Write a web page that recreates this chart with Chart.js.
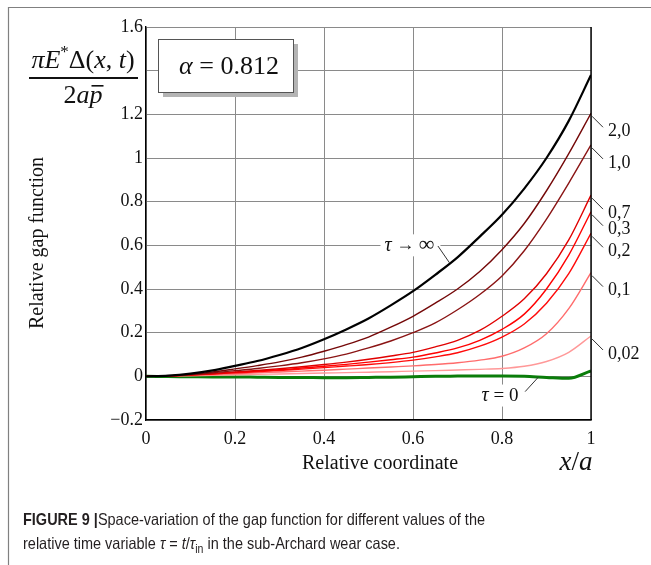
<!DOCTYPE html>
<html>
<head>
<meta charset="utf-8">
<script src="https://cdn.jsdelivr.net/npm/chart.js@4"></script>
<style>
html,body{margin:0;padding:0;background:#fff;}
#c{display:block;}
</style>
</head>
<body>
<canvas id="c" width="651" height="565"></canvas>
<script>
// ---- data ----
const X_VALUES = [0, 0.05, 0.1, 0.15, 0.2, 0.25, 0.3, 0.35, 0.4, 0.45, 0.5, 0.55, 0.6, 0.65, 0.7, 0.75, 0.8, 0.85, 0.9, 0.95, 1];
const TAU_INF  = [0, 0.003, 0.012, 0.027, 0.048, 0.07, 0.098, 0.13, 0.17, 0.215, 0.265, 0.325, 0.39, 0.465, 0.545, 0.64, 0.74, 0.86, 1.0, 1.17, 1.38];
const TAU_2_0  = [0, 0.002, 0.009, 0.02, 0.034, 0.049, 0.066, 0.088, 0.115, 0.145, 0.18, 0.225, 0.275, 0.335, 0.40, 0.48, 0.58, 0.70, 0.85, 1.02, 1.205];
const TAU_1_0  = [0, 0.002, 0.008, 0.016, 0.026, 0.036, 0.048, 0.062, 0.08, 0.102, 0.13, 0.162, 0.20, 0.245, 0.305, 0.375, 0.46, 0.575, 0.72, 0.885, 1.06];
const TAU_0_7  = [0, 0.002, 0.007, 0.013, 0.02, 0.027, 0.035, 0.044, 0.054, 0.065, 0.078, 0.093, 0.11, 0.135, 0.165, 0.21, 0.275, 0.355, 0.47, 0.625, 0.83];
const TAU_0_3  = [0, 0.002, 0.006, 0.012, 0.018, 0.024, 0.03, 0.038, 0.046, 0.055, 0.065, 0.076, 0.088, 0.107, 0.13, 0.165, 0.215, 0.285, 0.40, 0.555, 0.754];
const TAU_0_2  = [0, 0.002, 0.006, 0.011, 0.016, 0.021, 0.027, 0.033, 0.04, 0.047, 0.054, 0.063, 0.074, 0.089, 0.108, 0.138, 0.18, 0.24, 0.335, 0.47, 0.655];
const TAU_0_1  = [0, 0.002, 0.005, 0.008, 0.012, 0.016, 0.02, 0.024, 0.028, 0.033, 0.038, 0.043, 0.048, 0.054, 0.062, 0.074, 0.092, 0.13, 0.195, 0.31, 0.475];
const TAU_0_02 = [0, 0.001, 0.003, 0.005, 0.007, 0.009, 0.011, 0.013, 0.015, 0.017, 0.019, 0.021, 0.024, 0.026, 0.029, 0.032, 0.036, 0.046, 0.068, 0.11, 0.185];
const TAU_0    = [0, -0.001, -0.002, -0.003, -0.003, -0.004, -0.005, -0.005, -0.006, -0.006, -0.005, -0.004, -0.002, 0, 0.001, 0.002, 0.002, 0, -0.005, -0.009, 0.025];

const END_LABELS = ['2,0', '1,0', '0,7', '0,3', '0,2', '0,1', '0,02'];
const X_TICKS = [0, 0.2, 0.4, 0.6, 0.8, 1];
const Y_TICKS = [-0.2, 0, 0.2, 0.4, 0.6, 0.8, 1, 1.2, 1.4, 1.6];
const HIDDEN_Y_TICK = 1.4;
const ALPHA_TEXT = '0.812';
const X_TITLE = 'Relative coordinate';
const Y_TITLE = 'Relative gap function';

const SERIF = '"Liberation Serif", "Times New Roman", serif';
const SANS = '"Liberation Sans", Arial, sans-serif';

function series(vals) { return X_VALUES.map((x, i) => ({ x: x, y: vals[i] })); }

const datasets = [
  { key: 'inf', data: series(TAU_INF),  borderColor: '#000000', borderWidth: 2.2 },
  { key: '2,0', data: series(TAU_2_0),  borderColor: '#740808', borderWidth: 1.4 },
  { key: '1,0', data: series(TAU_1_0),  borderColor: '#8a1414', borderWidth: 1.4 },
  { key: '0,7', data: series(TAU_0_7),  borderColor: '#e00000', borderWidth: 1.4 },
  { key: '0,3', data: series(TAU_0_3),  borderColor: '#ff0000', borderWidth: 1.4 },
  { key: '0,2', data: series(TAU_0_2),  borderColor: '#ff0a0a', borderWidth: 1.4 },
  { key: '0,1', data: series(TAU_0_1),  borderColor: '#ff6c6c', borderWidth: 1.4 },
  { key: '0,02', data: series(TAU_0_02), borderColor: '#ff9898', borderWidth: 1.4 },
  { key: 'zero', data: series(TAU_0),   borderColor: '#0a7d0a', borderWidth: 3 }
].map(d => Object.assign(d, {
  label: d.key, fill: false, pointRadius: 0, pointHoverRadius: 0,
  cubicInterpolationMode: 'monotone'
}));

// draw a run of text pieces [text, font, dy]
function drawRun(ctx, pieces, x, y, align) {
  let total = 0;
  pieces.forEach(p => { ctx.font = p[1]; total += ctx.measureText(p[0]).width; });
  let cx = align === 'center' ? x - total / 2 : x;
  ctx.textAlign = 'left';
  pieces.forEach(p => {
    ctx.font = p[1];
    ctx.fillText(p[0], cx, y + (p[2] || 0));
    cx += ctx.measureText(p[0]).width;
  });
  return total;
}

const deco = {
  id: 'deco',
  beforeDraw(chart) {
    const ctx = chart.ctx;
    ctx.save();
    ctx.fillStyle = '#fff';
    ctx.fillRect(0, 0, chart.width, chart.height);
    ctx.strokeStyle = '#808080';
    ctx.lineWidth = 1.2;
    ctx.beginPath();
    ctx.moveTo(8.5, 565); ctx.lineTo(8.5, 7.5); ctx.lineTo(651, 7.5);
    ctx.stroke();
    ctx.restore();
  },
  afterDraw(chart) {
    const ctx = chart.ctx;
    const xs = chart.scales.x, ys = chart.scales.y;
    const area = chart.chartArea;
    ctx.save();
    // right boundary line at x = 1
    ctx.strokeStyle = '#000';
    ctx.lineWidth = 1.4;
    const xr = xs.getPixelForValue(1);
    ctx.beginPath(); ctx.moveTo(xr, area.top); ctx.lineTo(xr, area.bottom); ctx.stroke();

    // end labels with leaders
    ctx.fillStyle = '#111';
    ctx.strokeStyle = '#333';
    ctx.lineWidth = 1;
    ctx.textBaseline = 'middle';
    END_LABELS.forEach((lab, i) => {
      const ds = chart.data.datasets[i + 1];
      const last = ds.data[ds.data.length - 1];
      const px = xs.getPixelForValue(last.x), py = ys.getPixelForValue(last.y);
      ctx.beginPath(); ctx.moveTo(px + 1, py + 3); ctx.lineTo(px + 12, py + 14); ctx.stroke();
      ctx.font = '18px ' + SERIF;
      ctx.textAlign = 'left';
      ctx.fillText(lab, px + 17, py + 18);
    });

    // tau -> infinity label
    const infX = xs.getPixelForValue(0.592), infY = ys.getPixelForValue(0.6);
    ctx.fillStyle = '#fff';
    ctx.fillRect(infX - 29, infY - 11, 60, 22);
    ctx.fillStyle = '#111';
    drawRun(ctx, [['τ', 'italic 20px ' + SERIF], [' → ', '18px ' + SERIF], ['∞', '22px ' + SERIF]], infX, infY, 'center');
    ctx.beginPath();
    ctx.moveTo(xs.getPixelForValue(0.656), ys.getPixelForValue(0.597));
    ctx.lineTo(xs.getPixelForValue(0.682), ys.getPixelForValue(0.52));
    ctx.stroke();

    // tau = 0 label
    const zX = xs.getPixelForValue(0.7955), zY = ys.getPixelForValue(-0.088);
    ctx.fillStyle = '#fff';
    ctx.fillRect(zX - 25, zY - 11, 50, 22);
    ctx.fillStyle = '#111';
    drawRun(ctx, [['τ', 'italic 20px ' + SERIF], [' = 0', '19px ' + SERIF]], zX, zY, 'center');
    ctx.beginPath();
    ctx.moveTo(xs.getPixelForValue(0.852), ys.getPixelForValue(-0.07));
    ctx.lineTo(xs.getPixelForValue(0.882), ys.getPixelForValue(-0.003));
    ctx.stroke();

    // alpha box with shadow
    const bx = 158, by = 39, bw = 135, bh = 53;
    ctx.fillStyle = '#b4b4b4';
    ctx.fillRect(bx + 5, by + 5, bw, bh);
    ctx.fillStyle = '#fff';
    ctx.fillRect(bx, by, bw, bh);
    ctx.strokeStyle = '#555';
    ctx.lineWidth = 1;
    ctx.strokeRect(bx + 0.5, by + 0.5, bw, bh);
    ctx.fillStyle = '#111';
    drawRun(ctx, [['α', 'italic 26px ' + SERIF], [' = ' + ALPHA_TEXT, '26px ' + SERIF]], 229, 67, 'center');

    // left fraction label
    const num = [['π', 'italic 26px ' + SERIF], ['E', 'italic 26px ' + SERIF], ['*', '17px ' + SERIF, -8],
                 ['Δ(', '26px ' + SERIF], ['x', 'italic 26px ' + SERIF], [', ', '26px ' + SERIF],
                 ['t', 'italic 26px ' + SERIF], [')', '26px ' + SERIF]];
    drawRun(ctx, num, 83, 61, 'center');
    ctx.fillRect(29, 77, 109, 2);
    const den = [['2', '26px ' + SERIF], ['a', 'italic 26px ' + SERIF], ['p', 'italic 26px ' + SERIF]];
    let dw = 0;
    den.forEach(p => { ctx.font = p[1]; dw += ctx.measureText(p[0]).width; });
    drawRun(ctx, den, 83, 96, 'center');
    ctx.font = 'italic 26px ' + SERIF;
    const pw = ctx.measureText('p').width;
    ctx.fillRect(83 + dw / 2 - pw + 2, 85, pw - 1, 1.6);

    // axis titles
    ctx.fillStyle = '#111';
    ctx.font = '20px ' + SERIF;
    ctx.textAlign = 'center';
    ctx.fillText(X_TITLE, 380, 464);
    drawRun(ctx, [['x', 'italic 27px ' + SERIF], ['/', '27px ' + SERIF], ['a', 'italic 27px ' + SERIF]], 576, 463, 'center');
    ctx.save();
    ctx.translate(38, 243);
    ctx.rotate(-Math.PI / 2);
    ctx.font = '20px ' + SERIF;
    ctx.textAlign = 'center';
    ctx.fillText(Y_TITLE, 0, 0);
    ctx.restore();

    // caption
    ctx.fillStyle = '#231f20';
    ctx.textBaseline = 'alphabetic';
    const cap1 = [['FIGURE 9 |', 'bold 16.5px ' + SANS], ['Space-variation of the gap function for different values of the', '16.5px ' + SANS]];
    let w1 = 0;
    cap1.forEach(p => { ctx.font = p[1]; w1 += ctx.measureText(p[0]).width; });
    const sx = 462 / w1;
    ctx.save();
    ctx.translate(23, 0);
    ctx.scale(sx, 1);
    drawRun(ctx, cap1, 0, 525, 'left');
    drawRun(ctx, [['relative time variable ', '16.5px ' + SANS], ['τ', 'italic 16.5px ' + SANS], [' = ', '16.5px ' + SANS],
                  ['t', 'italic 16.5px ' + SANS], ['/', '16.5px ' + SANS], ['τ', 'italic 16.5px ' + SANS],
                  ['in', '12px ' + SANS, 4], [' in the sub-Archard wear case.', '16.5px ' + SANS]], 0, 549, 'left');
    ctx.restore();
    ctx.restore();
  }
};

new Chart(document.getElementById('c'), {
  type: 'line',
  data: { datasets: datasets },
  options: {
    responsive: false,
    animation: false,
    devicePixelRatio: 1,
    layout: { padding: { left: 0, right: 60, top: 27, bottom: 0 } },
    plugins: { legend: { display: false }, tooltip: { enabled: false } },
    scales: {
      x: {
        type: 'linear', min: 0, max: 1,
        afterFit(s) { s.height = 145; },
        afterBuildTicks(s) { s.ticks = X_TICKS.map(v => ({ value: v })); },
        grid: { color: '#8a8a8a', lineWidth: 1, drawTicks: false },
        border: { color: '#000', width: 1.4 },
        ticks: {
          padding: 8, color: '#111', maxRotation: 0,
          font: { family: SERIF, size: 18 },
          callback(v) { return (v === 0 || v === 1) ? String(v) : (Math.round(v * 10) / 10).toFixed(1); }
        }
      },
      y: {
        type: 'linear', min: -0.2, max: 1.6,
        afterFit(s) { s.width = 146; },
        afterBuildTicks(s) { s.ticks = Y_TICKS.map(v => ({ value: v })); },
        grid: { color: '#8a8a8a', lineWidth: 1, drawTicks: false },
        border: { color: '#000', width: 1.4 },
        ticks: {
          padding: 3, color: '#111',
          font: { family: SERIF, size: 18 },
          callback(v) {
            const r = Math.round(v * 10) / 10;
            if (Math.abs(r - HIDDEN_Y_TICK) < 1e-9) return '';
            if (r === 0) return '0';
            if (r === 1) return '1';
            const s = Math.abs(r).toFixed(1);
            return r < 0 ? '\u2212' + s : s;
          }
        }
      }
    }
  },
  plugins: [deco]
});
</script>
</body>
</html>
